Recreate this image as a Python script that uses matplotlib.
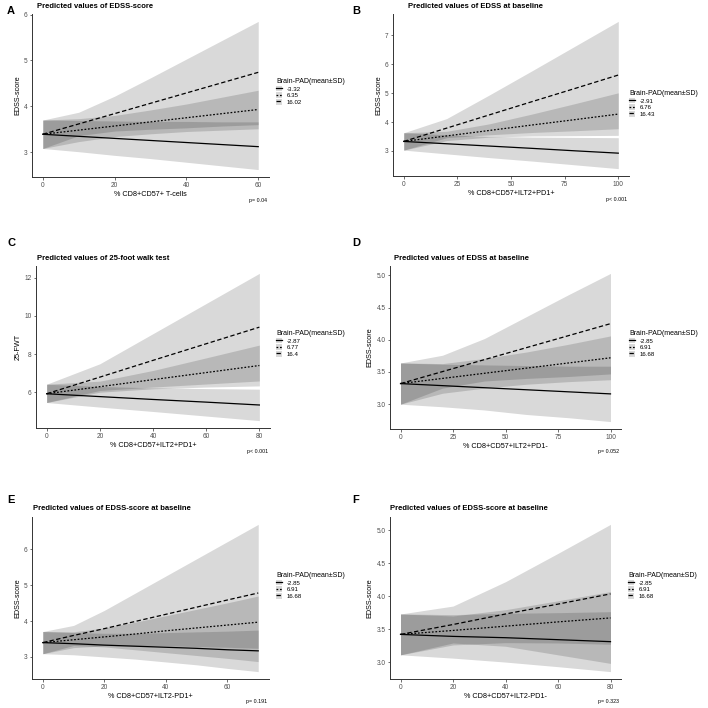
import matplotlib.pyplot as plt
from matplotlib.legend_handler import HandlerTuple

plt.rcParams['font.family'] = ['Liberation Sans', 'DejaVu Sans']

# ---- panel A ----
a_x = [0, 10, 20, 30, 40, 50, 60]
a_fit = [[3.39, 3.345, 3.30, 3.255, 3.21, 3.165, 3.12],
         [3.39, 3.48, 3.57, 3.66, 3.75, 3.84, 3.93],
         [3.39, 3.615, 3.84, 4.065, 4.29, 4.515, 4.74]]
a_lower = [[3.08, 3.01, 2.93, 2.86, 2.78, 2.70, 2.62],
           [3.08, 3.23, 3.34, 3.40, 3.45, 3.48, 3.51],
           [3.08, 3.36, 3.46, 3.50, 3.53, 3.57, 3.60]]
a_upper = [[3.70, 3.69, 3.68, 3.67, 3.67, 3.66, 3.66],
           [3.70, 3.73, 3.80, 3.92, 4.05, 4.20, 4.35],
           [3.70, 3.87, 4.22, 4.62, 5.03, 5.44, 5.85]]
a_groups = ['-3.32', '6.35', '16.02']

# ---- panel B ----
b_x = [0, 20, 40, 60, 80, 100]
b_fit = [[3.33, 3.25, 3.17, 3.09, 3.005, 2.925],
         [3.33, 3.52, 3.71, 3.90, 4.085, 4.275],
         [3.33, 3.79, 4.25, 4.71, 5.165, 5.625]]
b_lower = [[3.03, 2.90, 2.77, 2.65, 2.52, 2.39],
           [3.03, 3.36, 3.48, 3.52, 3.53, 3.54],
           [3.03, 3.46, 3.56, 3.64, 3.70, 3.77]]
b_upper = [[3.63, 3.56, 3.50, 3.48, 3.47, 3.46],
           [3.63, 3.68, 3.94, 4.28, 4.64, 5.01],
           [3.63, 4.12, 4.94, 5.78, 6.63, 7.48]]
b_groups = ['-2.91', '6.76', '16.43']

# ---- panel C ----
c_x = [0, 20, 40, 60, 80]
c_fit = [[5.92, 5.77, 5.62, 5.48, 5.33],
         [5.92, 6.29, 6.66, 7.03, 7.40],
         [5.92, 6.79, 7.67, 8.54, 9.41]]
c_lower = [[5.46, 5.22, 4.99, 4.75, 4.51],
           [5.46, 6.00, 6.18, 6.27, 6.33],
           [5.46, 6.09, 6.27, 6.43, 6.59]]
c_upper = [[6.42, 6.30, 6.23, 6.19, 6.16],
           [6.42, 6.58, 7.14, 7.80, 8.47],
           [6.42, 7.49, 9.07, 10.65, 12.23]]
c_groups = ['-2.87', '6.77', '16.4']

# ---- panel D ----
d_x = [0, 20, 40, 60, 80, 100]
d_fit = [[3.32, 3.288, 3.256, 3.224, 3.192, 3.16],
         [3.32, 3.40, 3.48, 3.56, 3.64, 3.72],
         [3.32, 3.506, 3.692, 3.878, 4.064, 4.25]]
d_lower = [[3.00, 2.96, 2.91, 2.84, 2.79, 2.73],
           [3.00, 3.17, 3.25, 3.31, 3.35, 3.38],
           [3.00, 3.25, 3.36, 3.40, 3.43, 3.47]]
d_upper = [[3.64, 3.62, 3.61, 3.60, 3.59, 3.59],
           [3.64, 3.63, 3.71, 3.81, 3.93, 4.06],
           [3.64, 3.76, 4.02, 4.36, 4.70, 5.03]]
d_groups = ['-2.85', '6.91', '16.68']

# ---- panel E ----
e_x = [0, 10, 20, 30, 40, 50, 60, 70]
e_fit = [[3.40, 3.37, 3.33, 3.30, 3.27, 3.24, 3.20, 3.17],
         [3.40, 3.48, 3.56, 3.64, 3.73, 3.81, 3.89, 3.97],
         [3.40, 3.60, 3.79, 3.99, 4.19, 4.39, 4.59, 4.785]]
e_lower = [[3.09, 3.06, 3.00, 2.94, 2.86, 2.78, 2.68, 2.59],
           [3.09, 3.26, 3.31, 3.31, 3.31, 3.29, 3.27, 3.24],
           [3.09, 3.32, 3.28, 3.20, 3.12, 3.04, 2.96, 2.87]]
e_upper = [[3.71, 3.68, 3.66, 3.66, 3.68, 3.70, 3.72, 3.75],
           [3.71, 3.70, 3.81, 3.97, 4.15, 4.33, 4.51, 4.70],
           [3.71, 3.88, 4.30, 4.78, 5.26, 5.74, 6.22, 6.70]]
e_groups = ['-2.85', '6.91', '16.68']

# ---- panel F ----
f_x = [0, 20, 40, 60, 80]
f_fit = [[3.42, 3.39, 3.37, 3.34, 3.31],
         [3.42, 3.48, 3.545, 3.61, 3.67],
         [3.42, 3.57, 3.73, 3.88, 4.035]]
f_lower = [[3.11, 3.06, 3.00, 2.93, 2.855],
           [3.11, 3.26, 3.295, 3.29, 3.27],
           [3.11, 3.29, 3.24, 3.11, 2.98]]
f_upper = [[3.73, 3.72, 3.74, 3.75, 3.765],
           [3.73, 3.70, 3.795, 3.93, 4.07],
           [3.73, 3.85, 4.22, 4.65, 5.09]]
f_groups = ['-2.85', '6.91', '16.68']

letters = ['A', 'B', 'C', 'D', 'E', 'F']
titles = ['Predicted values of EDSS-score',
          'Predicted values of EDSS at baseline',
          'Predicted values of 25-foot walk test',
          'Predicted values of EDSS at baseline',
          'Predicted values of EDSS-score at baseline',
          'Predicted values of EDSS-score at baseline']
xlabels = ['% CD8+CD57+ T-cells', '% CD8+CD57+ILT2+PD1+', '% CD8+CD57+ILT2+PD1+',
           '% CD8+CD57+ILT2+PD1-', '% CD8+CD57+ILT2-PD1+', '% CD8+CD57+ILT2-PD1-']
ylabels = ['EDSS-score', 'EDSS-score', '25-FWT', 'EDSS-score', 'EDSS-score', 'EDSS-score']
pvalues = ['p= 0.04', 'p< 0.001', 'p< 0.001', 'p= 0.052', 'p= 0.191', 'p= 0.323']
xticks = [[0, 20, 40, 60], [0, 25, 50, 75, 100], [0, 20, 40, 60, 80],
          [0, 25, 50, 75, 100], [0, 20, 40, 60], [0, 20, 40, 60, 80]]
yticks = [[3, 4, 5, 6], [3, 4, 5, 6, 7], [6, 8, 10, 12],
          [3.0, 3.5, 4.0, 4.5, 5.0], [3, 4, 5, 6], [3.0, 3.5, 4.0, 4.5, 5.0]]

panels = [(a_x, a_fit, a_lower, a_upper, a_groups),
          (b_x, b_fit, b_lower, b_upper, b_groups),
          (c_x, c_fit, c_lower, c_upper, c_groups),
          (d_x, d_fit, d_lower, d_upper, d_groups),
          (e_x, e_fit, e_lower, e_upper, e_groups),
          (f_x, f_fit, f_lower, f_upper, f_groups)]

# layout in pixels (left, right, top, bottom) of each plotting panel
W = H = 708
boxes = [(32, 269, 14, 177), (393, 629, 14, 176),
         (36, 270, 266, 428), (390, 621, 266, 429),
         (32, 269, 517, 679), (390, 621, 517, 679)]
legend_at = [(276, 78), (629, 90), (276, 330), (629, 330), (276, 572), (628, 572)]
title_at = [(37, 6), (408, 6), (37, 259), (394, 259), (33, 509), (390, 509)]
letter_at = [(11, 11), (356, 11), (11, 243), (356, 243), (11, 500), (356, 500)]
styles = ['-', (0, (1.4, 1.4)), (0, (3.5, 2.0))]

fig = plt.figure(figsize=(W / 100, H / 100), dpi=100)


def fx(px):
    return px / W


def fy(py):
    return 1 - py / H


for i, (x, fit, lower, upper, groups) in enumerate(panels):
    l, r, t, b = boxes[i]
    ax = fig.add_axes([fx(l), fy(b), (r - l) / W, (b - t) / H])
    handles = []
    for k in range(3):
        band = ax.fill_between(x, lower[k], upper[k], color='black', alpha=0.15, lw=0)
        line, = ax.plot(x, fit[k], color='black', lw=0.9, ls=styles[k])
        handles.append((band, line))
    ax.margins(x=0.05, y=0.05)
    ax.set_xticks(xticks[i])
    ax.set_yticks(yticks[i])
    for s in ['top', 'right']:
        ax.spines[s].set_visible(False)
    for s in ['left', 'bottom']:
        ax.spines[s].set_linewidth(0.7)
        ax.spines[s].set_color('#333333')
    ax.tick_params(length=1.8, width=0.5, color='#333333', pad=1.5,
                   labelsize=4.7, labelcolor='#4d4d4d')
    ax.set_xlabel(xlabels[i], fontsize=5.2, labelpad=2)
    ax.set_ylabel(ylabels[i], fontsize=5.2, labelpad=2)

    lx, ly = legend_at[i]
    leg = ax.legend(handles, groups, title='Brain-PAD(mean\u00b1SD)',
                    loc='upper left', bbox_to_anchor=(fx(lx), fy(ly)),
                    bbox_transform=fig.transFigure, frameon=False,
                    fontsize=4.4, title_fontsize=5.0, borderpad=0, borderaxespad=0,
                    handlelength=1.0, handleheight=1.1, handletextpad=0.7,
                    labelspacing=0.1, alignment='left',
                    handler_map={tuple: HandlerTuple(ndivide=1)})

    tx, ty = title_at[i]
    fig.text(fx(tx), fy(ty), titles[i], fontsize=5.5, fontweight='bold',
             ha='left', va='center')
    cx, cy = letter_at[i]
    fig.text(fx(cx), fy(cy), letters[i], fontsize=8, fontweight='bold',
             ha='center', va='center')
    fig.text(fx(r - 2), fy(b + 23), pvalues[i], fontsize=3.8, ha='right', va='center')

fig.savefig('out.png', dpi=100, facecolor='white')
